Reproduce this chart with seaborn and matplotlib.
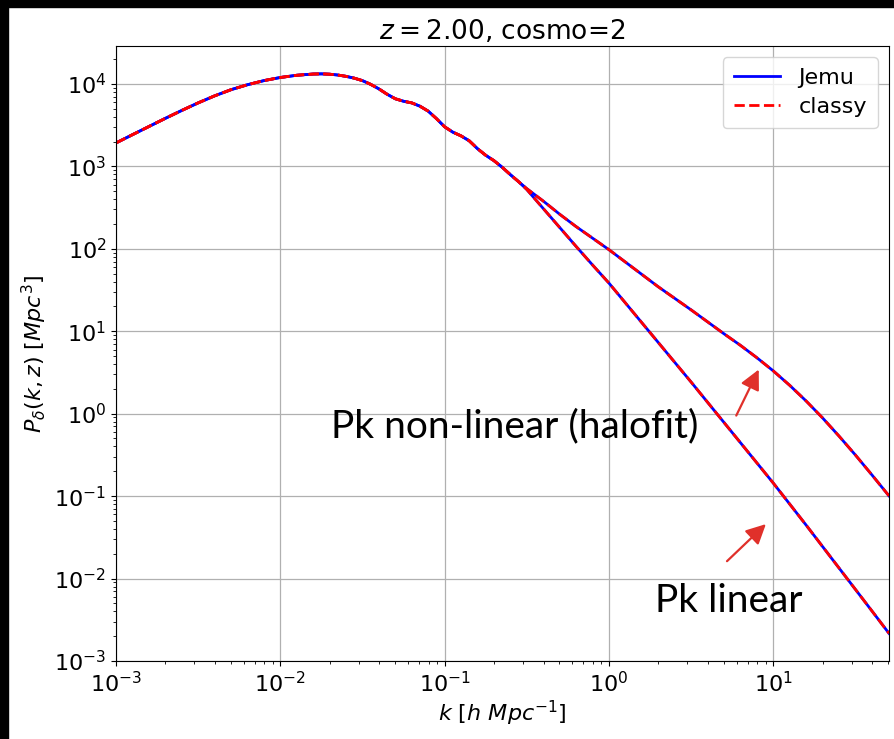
import numpy as np
import pandas as pd
import matplotlib
matplotlib.use("Agg")
import matplotlib.pyplot as plt
from matplotlib.patches import Rectangle
import seaborn as sns

# ---- data ----
# shared large-scale part (linear == non-linear)
logk_shared = [-3.0, -2.9, -2.8, -2.7, -2.6, -2.5, -2.4, -2.3, -2.2, -2.1, -2.0, -1.9,
               -1.8, -1.75, -1.7, -1.65, -1.6, -1.55, -1.5, -1.45,
               -1.4, -1.35, -1.3, -1.25, -1.2, -1.15, -1.1, -1.05, -1.0, -0.95,
               -0.9, -0.85, -0.8, -0.75, -0.7, -0.65, -0.6, -0.55]
logP_shared = [3.284, 3.384, 3.483, 3.582, 3.678, 3.77, 3.855, 3.93, 3.99, 4.04, 4.078, 4.105,
               4.12, 4.122, 4.118, 4.108, 4.092, 4.07, 4.04, 3.995,
               3.94, 3.875, 3.82, 3.79, 3.77, 3.73, 3.67, 3.58, 3.48, 3.415,
               3.37, 3.31, 3.215, 3.135, 3.07, 2.99, 2.90, 2.815]

logk_small = [-0.5, -0.4, -0.3, -0.2, -0.1, 0.0, 0.1, 0.2, 0.3, 0.4, 0.5, 0.6,
              0.7, 0.8, 0.9, 1.0, 1.1, 1.2, 1.3, 1.4, 1.5, 1.6, 1.705]
logP_lin_small = [2.72, 2.49, 2.26, 2.03, 1.805, 1.585, 1.345, 1.105, 0.865, 0.625, 0.385, 0.14,
                  -0.105, -0.35, -0.595, -0.84, -1.095, -1.35, -1.61, -1.87, -2.13, -2.39, -2.665]
logP_nl_small = [2.73, 2.58, 2.42, 2.27, 2.13, 1.99, 1.84, 1.69, 1.54, 1.40, 1.26, 1.115,
                 0.97, 0.83, 0.68, 0.52, 0.345, 0.155, -0.05, -0.27, -0.50, -0.74, -0.997]

codes = ["Jemu", "classy"]
code_colors = {"Jemu": "#0000ff", "classy": "#ff0000"}
code_styles = {"Jemu": "-", "classy": "--"}

title = "$z=2.00$, cosmo=2"
xlabel = "$k$ $[h$ $Mpc^{-1}]$"
ylabel = r"$P_\delta(k,z)$ $[Mpc^3]$"

# build tidy table
rows = []
for kind, tail in (("linear", logP_lin_small), ("nonlinear", logP_nl_small)):
    lk = logk_shared + logk_small
    lp = logP_shared + tail
    for a, b in zip(lk, lp):
        rows.append({"k": 10 ** a, "P": 10 ** b, "kind": kind})
df = pd.DataFrame(rows)

# ---- figure ----
fig = plt.figure(figsize=(8.95, 7.39), dpi=100)
fig.patch.set_facecolor("white")
ax = fig.add_axes([116 / 895, 78 / 739, 773 / 895, 615 / 739])

for code in codes:
    for i, kind in enumerate(("nonlinear", "linear")):
        sub = df[df["kind"] == kind]
        sns.lineplot(data=sub, x="k", y="P", ax=ax, color=code_colors[code],
                     linestyle=code_styles[code], lw=2, sort=False,
                     label=code if i == 0 else None, estimator=None)

ax.set_xscale("log")
ax.set_yscale("log")
ax.set_xlim(1e-3, 10 ** 1.705)
ax.set_ylim(1e-3, 10 ** 4.46)
ax.grid(True, which="major", color="#b0b0b0", lw=0.9)
ax.tick_params(axis="both", which="major", labelsize=16)
ax.set_title(title, fontsize=19, pad=5)
ax.set_xlabel(xlabel, fontsize=16, labelpad=2)
ax.set_ylabel(ylabel, fontsize=16, labelpad=4)

leg = ax.legend(loc="upper right", fontsize=16, handlelength=2.1, handletextpad=0.8,
                borderpad=0.5, labelspacing=0.4, framealpha=0.8)

# annotations
arrow_col = "#e0302a"
ax.text(0.0204, 0.52, "Pk non-linear (halofit)", fontsize=28, family="Lato",
        color="black", ha="left", va="baseline")
ax.text(1.91, 0.0039, "Pk linear", fontsize=28, family="Lato",
        color="black", ha="left", va="baseline")
ax.annotate("", xy=(8.31, 3.68), xytext=(5.86, 0.885),
            arrowprops=dict(arrowstyle="-|>", color=arrow_col, lw=1.6, mutation_scale=30))
ax.annotate("", xy=(9.29, 0.0483), xytext=(5.09, 0.0154),
            arrowprops=dict(arrowstyle="-|>", color=arrow_col, lw=1.6, mutation_scale=30))

# black screenshot border
fig.patches.append(Rectangle((0, 0), 8 / 895, 1, transform=fig.transFigure,
                             color="black", zorder=10))
fig.patches.append(Rectangle((0, 1 - 7 / 739), 1, 7 / 739, transform=fig.transFigure,
                             color="black", zorder=10))

fig.savefig("out.png", dpi=100)
